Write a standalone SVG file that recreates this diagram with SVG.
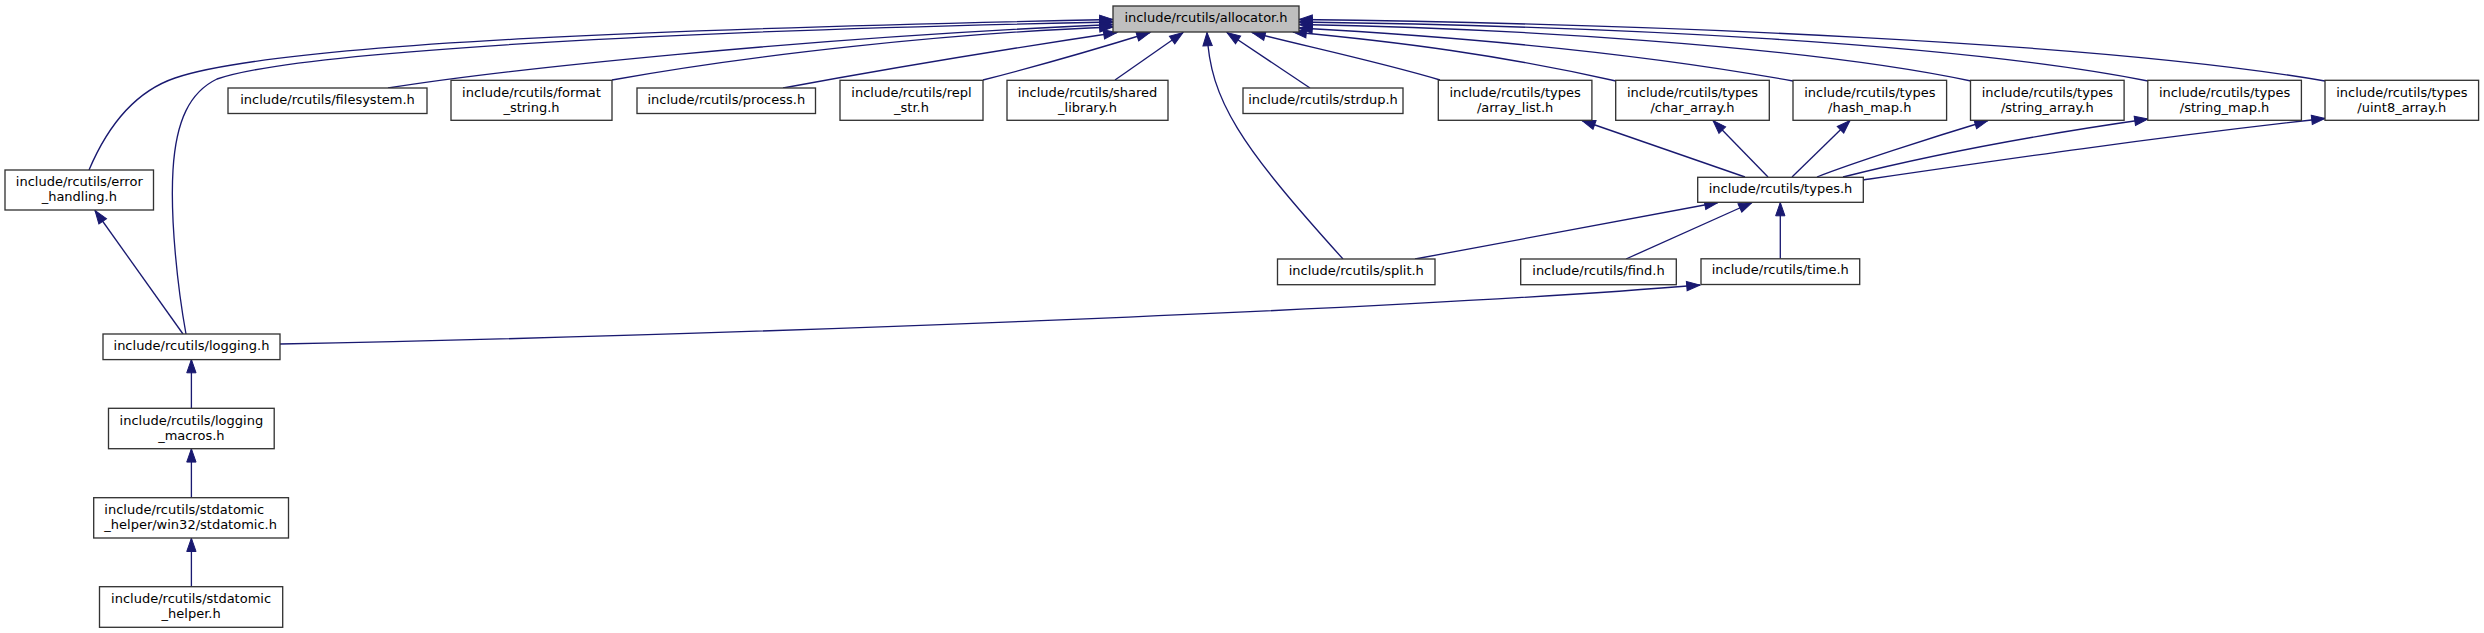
<svg xmlns="http://www.w3.org/2000/svg" width="2484" height="633" viewBox="0 0 2484 633">
<defs>
<style>
.n rect{fill:#ffffff;stroke:#333333;stroke-width:1.33}
.n.root rect{fill:#bfbfbf}
.n text{font-family:"DejaVu Sans","Liberation Sans",sans-serif;font-size:13px;fill:#000000;text-anchor:middle}
.e path{fill:none;stroke:#191970;stroke-width:1.33;marker-end:url(#ah)}
</style>
<marker id="ah" markerUnits="userSpaceOnUse" markerWidth="16" markerHeight="12" refX="13.3" refY="4.67" orient="auto" overflow="visible">
<path d="M0,0 L13.3,4.67 L0,9.33 Z" fill="#191970" stroke="#191970" stroke-width="1"/>
</marker>
</defs>
<rect x="0" y="0" width="2484" height="633" fill="#ffffff"/>

<g id="edges" class="e">
<path d="M89,170 C103,137 128,94 175,78 C280,42 700,28 1113,19.5"/>
<path d="M186,334 C178,290 170,220 173,170 C176,120 190,92 217,79 C300,50 700,30 1113,22"/>
<path d="M388,88 C500,70 800,38 1113,24.5"/>
<path d="M612,80 C750,55 950,33 1113,27"/>
<path d="M783,88 C880,70 1000,50 1117,32.5"/>
<path d="M983,80 C1030,68 1100,48 1150,32.5"/>
<path d="M1115,80 L1183,32.5"/>
<path d="M1343,259 C1240,145 1210,100 1207,32.5"/>
<path d="M1310,88 L1227,32.5"/>
<path d="M1440,80 C1380,62 1300,45 1252,32.5"/>
<path d="M1616,81 C1500,55 1400,42 1293,32"/>
<path d="M1793,81 C1650,55 1480,38 1299,28"/>
<path d="M1971,81 C1800,45 1500,28 1299,24.5"/>
<path d="M2148,81 C1950,42 1600,26 1299,22"/>
<path d="M2325,81 C2100,42 1650,24 1299,19.5"/>
<path d="M183,334 L95,210.5"/>
<path d="M191.4,408 L191.4,359.5"/>
<path d="M191.4,497.7 L191.4,448.8"/>
<path d="M191.4,586.7 L191.4,538.2"/>
<path d="M280,344 C700,336 1400,310 1700,285"/>
<path d="M1745,177 L1582,120.5"/>
<path d="M1768,177 L1713,120.5"/>
<path d="M1792,177 L1850,120.5"/>
<path d="M1817,177 C1850,164 1930,138 1988,120.5"/>
<path d="M1843,177 C1950,150 2050,133 2148,119"/>
<path d="M1863,180 C2000,160 2150,138 2325,118.5"/>
<path d="M1415,259 L1718,202.5"/>
<path d="M1626,259 L1752,202.5"/>
<path d="M1780.3,258.8 L1780.3,202.5"/>
</g>

<g id="n_allocator" class="n root"><rect x="1113" y="6" width="186" height="26"/><text x="1206" y="21.5">include/rcutils/allocator.h</text></g>
<g id="n_error_handling" class="n"><rect x="5" y="170" width="148.5" height="40"/><text x="79.3" y="186.3">include/rcutils/error</text><text x="79.3" y="201.3">_handling.h</text></g>
<g id="n_logging" class="n"><rect x="103" y="334" width="177" height="25.6"/><text x="191.5" y="349.6">include/rcutils/logging.h</text></g>
<g id="n_filesystem" class="n"><rect x="228" y="88" width="199" height="25.5"/><text x="327.5" y="103.5">include/rcutils/filesystem.h</text></g>
<g id="n_format_string" class="n"><rect x="451" y="80.3" width="161" height="40"/><text x="531.5" y="96.6">include/rcutils/format</text><text x="531.5" y="111.6">_string.h</text></g>
<g id="n_process" class="n"><rect x="637" y="88" width="178.5" height="25.5"/><text x="726.3" y="103.5">include/rcutils/process.h</text></g>
<g id="n_repl_str" class="n"><rect x="840" y="80.3" width="143" height="40"/><text x="911.5" y="96.6">include/rcutils/repl</text><text x="911.5" y="111.6">_str.h</text></g>
<g id="n_shared_library" class="n"><rect x="1007" y="80.3" width="161" height="40"/><text x="1087.5" y="96.6">include/rcutils/shared</text><text x="1087.5" y="111.6">_library.h</text></g>
<g id="n_strdup" class="n"><rect x="1243" y="88" width="160" height="25.5"/><text x="1323" y="103.5">include/rcutils/strdup.h</text></g>
<g id="n_array_list" class="n"><rect x="1438.3" y="80.3" width="153.6" height="40"/><text x="1515.1" y="96.6">include/rcutils/types</text><text x="1515.1" y="111.6">/array_list.h</text></g>
<g id="n_char_array" class="n"><rect x="1615.7" y="80.3" width="153.6" height="40"/><text x="1692.5" y="96.6">include/rcutils/types</text><text x="1692.5" y="111.6">/char_array.h</text></g>
<g id="n_hash_map" class="n"><rect x="1793" y="80.3" width="153.6" height="40"/><text x="1869.8" y="96.6">include/rcutils/types</text><text x="1869.8" y="111.6">/hash_map.h</text></g>
<g id="n_string_array" class="n"><rect x="1970.5" y="80.3" width="153.6" height="40"/><text x="2047.3" y="96.6">include/rcutils/types</text><text x="2047.3" y="111.6">/string_array.h</text></g>
<g id="n_string_map" class="n"><rect x="2147.8" y="80.3" width="153.6" height="40"/><text x="2224.6" y="96.6">include/rcutils/types</text><text x="2224.6" y="111.6">/string_map.h</text></g>
<g id="n_uint8_array" class="n"><rect x="2325" y="80.3" width="153.6" height="40"/><text x="2401.8" y="96.6">include/rcutils/types</text><text x="2401.8" y="111.6">/uint8_array.h</text></g>
<g id="n_types" class="n"><rect x="1697.7" y="177.3" width="165.6" height="25"/><text x="1780.5" y="192.8">include/rcutils/types.h</text></g>
<g id="n_split" class="n"><rect x="1277.5" y="259" width="157.5" height="25.7"/><text x="1356.3" y="274.6">include/rcutils/split.h</text></g>
<g id="n_find" class="n"><rect x="1520.7" y="259" width="155.6" height="25.7"/><text x="1598.5" y="274.6">include/rcutils/find.h</text></g>
<g id="n_time" class="n"><rect x="1701" y="258.8" width="158.7" height="25.7"/><text x="1780.3" y="274.4">include/rcutils/time.h</text></g>
<g id="n_logging_macros" class="n"><rect x="108.5" y="408.3" width="165.7" height="40.4"/><text x="191.4" y="424.6">include/rcutils/logging</text><text x="191.4" y="439.6">_macros.h</text></g>
<g id="n_stdatomic_win32" class="n"><rect x="93.7" y="497.7" width="194.8" height="40.3"/><text x="104.3" y="514" style="text-anchor:start">include/rcutils/stdatomic</text><text x="104.3" y="529" style="text-anchor:start">_helper/win32/stdatomic.h</text></g>
<g id="n_stdatomic_helper" class="n"><rect x="99.5" y="586.7" width="183.2" height="40.6"/><text x="191.1" y="603">include/rcutils/stdatomic</text><text x="191.1" y="618">_helper.h</text></g>
</svg>
